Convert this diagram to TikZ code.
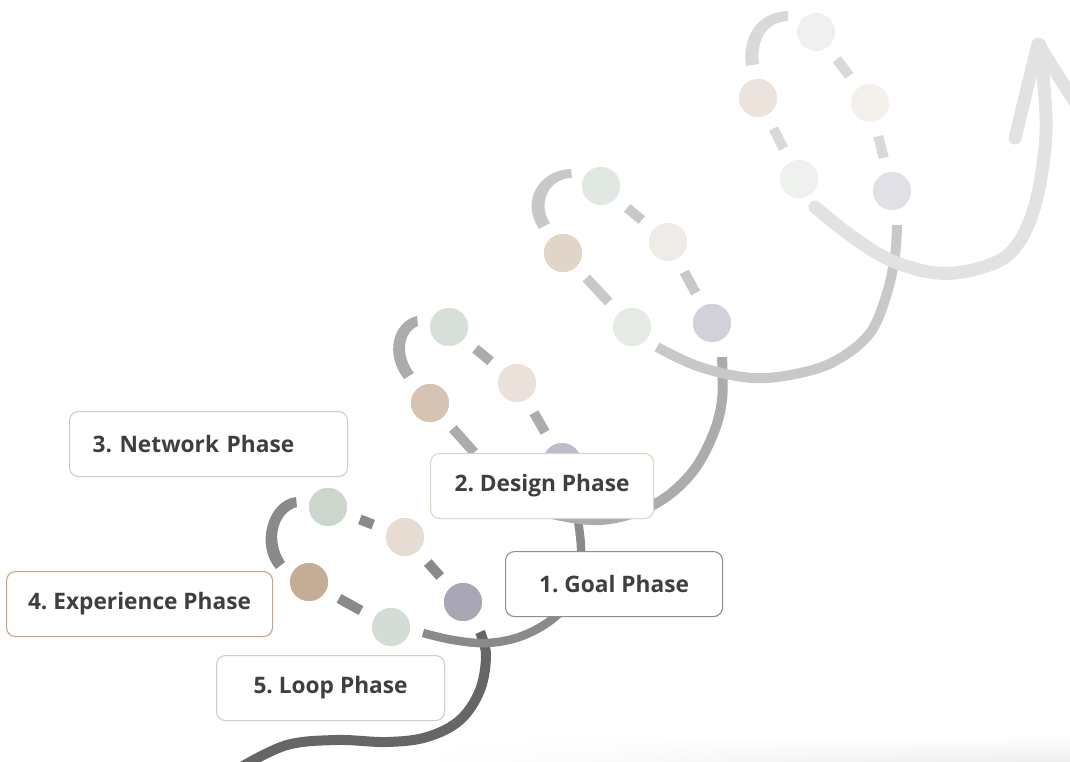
\documentclass[tikz,border=0pt]{standalone}
\usepackage{fontspec}
\setmainfont{Open Sans}
\usetikzlibrary{calc,fadings}
\definecolor{txt}{HTML}{3F3F3F}
\definecolor{tailc}{HTML}{666666}
\definecolor{lA}{HTML}{8A8A8A}
\definecolor{lB}{HTML}{ACACAC}
\definecolor{lC}{HTML}{C8C8C8}
\definecolor{lD}{HTML}{D9D9D9}
\definecolor{lE}{HTML}{E2E2E2}
% dots
\definecolor{aA}{HTML}{CDD6CC}\definecolor{aB}{HTML}{E6DCD2}\definecolor{aC}{HTML}{C4AD94}\definecolor{aD}{HTML}{A9A6B5}\definecolor{aE}{HTML}{D3DDD5}
\definecolor{bA}{HTML}{D6E0D8}\definecolor{bB}{HTML}{EBE1DA}\definecolor{bC}{HTML}{D5C4B3}\definecolor{bD}{HTML}{C0BCCB}\definecolor{bE}{HTML}{DCE4DD}
\definecolor{cA}{HTML}{E1E8E2}\definecolor{cB}{HTML}{EFEBE6}\definecolor{cC}{HTML}{E0D5C8}\definecolor{cD}{HTML}{D2D1DA}\definecolor{cE}{HTML}{E6EBE6}
\definecolor{dA}{HTML}{EEF1EE}\definecolor{dB}{HTML}{F4F1ED}\definecolor{dC}{HTML}{EBE3DC}\definecolor{dD}{HTML}{E1E0E6}\definecolor{dE}{HTML}{EEF1EE}
% borders
\definecolor{bNet}{HTML}{C5D1C5}
\definecolor{bExp}{HTML}{C7A686}
\definecolor{bLoop}{HTML}{C6D4C6}
\definecolor{bDes}{HTML}{E2D2C2}
\definecolor{bGoal}{HTML}{8E8AA2}
\tikzfading[name=fadeleft, left color=transparent!100, right color=transparent!0]
\frenchspacing
\begin{document}
\begin{tikzpicture}[x=1pt,y=-1pt,
  dot/.style={circle, minimum size=38pt, inner sep=0pt, draw=none},
  seg/.style={line width=10pt, shorten <=15pt, shorten >=15pt},
  flow/.style={line width=10pt},
  phase/.style={draw, line width=1.1pt, rounded corners=9pt, fill=white,
    minimum height=65pt, inner sep=0pt, text=txt,
    font=\bfseries\fontsize{22.7}{26}\selectfont}]
\useasboundingbox (0,0) rectangle (1070,762);
\shade[top color=white, bottom color=black!7, path fading=fadeleft] (420,736) rectangle (1070,762);

% ---- dots (nodes) ----
\node[dot, fill=aA] (l1d1) at (328,507) {};
\node[dot, fill=aB] (l1d2) at (405,537) {};
\node[dot, fill=aC] (l1d3) at (309,582) {};
\node[dot, fill=aD] (l1d4) at (463,602) {};
\node[dot, fill=aE] (l1d5) at (391,627) {};

\node[dot, fill=bA] (l2d1) at (449,327) {};
\node[dot, fill=bB] (l2d2) at (517,383) {};
\node[dot, fill=bC] (l2d3) at (430,403) {};
\node[dot, fill=bD] (l2d4) at (562,462) {};
\node[dot, fill=bE] (l2d5) at (497,478) {};

\node[dot, fill=cA] (l3d1) at (601,186) {};
\node[dot, fill=cB] (l3d2) at (668,242) {};
\node[dot, fill=cC] (l3d3) at (563,253) {};
\node[dot, fill=cD] (l3d4) at (712,323) {};
\node[dot, fill=cE] (l3d5) at (632,327) {};

\node[dot, fill=dA] (l4d1) at (816,32) {};
\node[dot, fill=dB] (l4d2) at (870,103) {};
\node[dot, fill=dC] (l4d3) at (758,98) {};
\node[dot, fill=dD] (l4d4) at (892,191) {};
\node[dot, fill=dE] (l4d5) at (799,179) {};

% ---- flows between loops ----
\draw[flow, tailc] plot[smooth, tension=0.6] coordinates
  {(243,766) (287,745) (337,740) (387,742) (427,737) (460,720) (480,690) (486,655) (480,632)};
\draw[flow, lA, line width=8.5pt] plot[smooth, tension=0.6] coordinates
  {(423,633) (453,640) (487,643) (522,636) (555,617) (575,590) (581,555) (578,520) (572,485)};
\draw[flow, lB] plot[smooth, tension=0.6] coordinates
  {(505,495) (540,511) (600,520) (653,505) (690,475) (712,437) (722,400) (722,357)};
\draw[flow, lC] plot[smooth, tension=0.6] coordinates
  {(657,347) (700,367) (753,378) (800,373) (837,360) (870,333) (887,293) (895,255) (897,225)};
\draw[flow, lE, line width=13pt, line cap=round] plot[smooth, tension=0.6] coordinates
  {(815,207) (850,235) (890,260) (937,273) (980,268) (1013,250) (1035,205) (1046,130) (1040,45)};
\draw[lE, line width=13pt, line cap=round, line join=round] (1015,138) -- (1038,44) -- (1080,110);

% ---- loops: bows (tapered) and dashes ----
\fill[lA] (296,497) .. controls (268,500) and (255,545) .. (276,569)
  -- (285,562) .. controls (270,540) and (278,512) .. (297,507) -- cycle;
\draw[seg, lA] (l1d1) -- (l1d2);
\draw[seg, lA] (l1d2) -- (l1d4);
\draw[seg, lA] (l1d3) -- (l1d5);

\fill[lB] (417,316) .. controls (392,322) and (385,355) .. (404,379)
  -- (414,373) .. controls (400,355) and (403,332) .. (418,326) -- cycle;
\draw[seg, lB] (l2d1) -- (l2d2);
\draw[seg, lB] (l2d2) -- (l2d4);
\draw[seg, lB] (l2d3) -- (l2d5);

\fill[lC] (571,169) .. controls (540,170) and (520,200) .. (539,229)
  -- (550,223) .. controls (537,205) and (548,178) .. (572,178) -- cycle;
\draw[seg, lC] (l3d1) -- (l3d2);
\draw[seg, lC] (l3d2) -- (l3d4);
\draw[seg, lC] (l3d3) -- (l3d5);

\fill[lD] (788,11) .. controls (755,12) and (742,40) .. (746,66)
  -- (759,64) .. controls (756,42) and (765,22) .. (788,21) -- cycle;
\draw[seg, lD] (l4d1) -- (l4d2);
\draw[seg, lD] (l4d2) -- (l4d4);
\draw[seg, lD] (l4d3) -- (l4d5);

% redraw dots on top
\foreach \n/\c in {l1d1/aA,l1d2/aB,l1d3/aC,l1d4/aD,l1d5/aE,
                   l2d1/bA,l2d2/bB,l2d3/bC,l2d4/bD,l2d5/bE,
                   l3d1/cA,l3d2/cB,l3d3/cC,l3d4/cD,l3d5/cE,
                   l4d1/dA,l4d2/dB,l4d3/dC,l4d4/dD,l4d5/dE}
  \fill[\c] (\n) circle (19pt);

% ---- phase labels ----
\node[phase, draw=bNet, anchor=north west, minimum width=278pt, text width=232pt, align=left, inner xsep=23pt]
  (net) at (69,411) {3. Network Phase};
\node[phase, draw=bDes, anchor=north west, minimum width=223pt] (des) at (430,453) {2. Design Phase};
\node[phase, draw=bGoal, anchor=north west, minimum width=217pt] (goal) at (505,551) {1. Goal Phase};
\node[phase, draw=bExp, anchor=north west, minimum width=266pt] (exp) at (6,571) {4. Experience Phase};
\node[phase, draw=bLoop, anchor=north west, minimum width=228pt] (loop) at (216,655) {5. Loop Phase};
\end{tikzpicture}
\end{document}
